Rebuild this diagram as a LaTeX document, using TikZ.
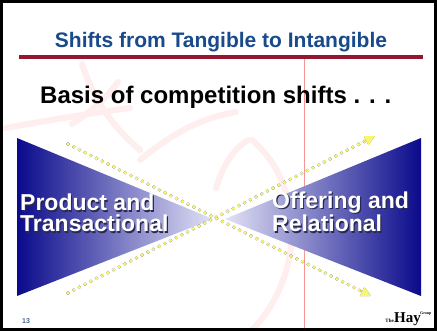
\documentclass[tikz,border=0pt]{standalone}
\usepackage{fontspec}
\setmainfont{Liberation Sans}
\newfontfamily\logoface{Liberation Serif}
\usetikzlibrary{arrows.meta,calc}

\definecolor{titleblue}{RGB}{24,74,140}
\definecolor{rulered}{RGB}{150,22,50}
\definecolor{deepblue}{RGB}{10,10,140}
\definecolor{paleblue}{RGB}{226,226,246}
\definecolor{dotyellow}{RGB}{250,246,110}
\definecolor{dotshadow}{RGB}{30,50,140}
\definecolor{guide}{RGB}{245,150,150}
\definecolor{wmark}{RGB}{254,238,238}
\definecolor{textshadow}{RGB}{40,40,80}
\definecolor{pagenum}{RGB}{70,100,150}

% white lettering with a dark drop shadow, set in one box
\newcommand{\shadowtext}[1]{%
  \makebox[0pt][l]{\hspace{1.2pt}\raisebox{-1.2pt}{\textcolor{textshadow}{#1}}}%
  \textcolor{white}{#1}}

\tikzset{
  dotrow/.style={line width=3.6, line cap=round, dash pattern=on 0pt off 6.4pt},
  tipstyle/.style={line width=0.4, -{Triangle[length=10,width=10]}},
  bigword/.style={font=\bfseries\fontsize{23}{21}\selectfont, align=left,
    anchor=base west, inner sep=0},
  watermark/.style={draw=wmark, line width=6, line cap=round},
}

\begin{document}
\begin{tikzpicture}[x=1pt,y=-1pt]
\useasboundingbox (0,0) rectangle (437,331);
\fill[white] (0,0) rectangle (437,331);

% faint background ornament
\draw[watermark] (82,64) .. controls (92,95) and (110,125) .. (140,150);
\draw[watermark] (6,128) .. controls (60,118) and (100,112) .. (130,108);
\draw[watermark] (72,124) .. controls (90,112) and (105,100) .. (118,82);
\draw[watermark] (140,160) .. controls (170,135) and (200,118) .. (236,112);
\draw[watermark] (248,140) .. controls (232,150) and (222,168) .. (216,188);
\draw[watermark] (252,140) .. controls (305,185) and (305,275) .. (252,330);

% frame, title and rule
\draw[black, line width=3] (1.5,1.5) rectangle (435.5,329.5);
\node[font=\bfseries\fontsize{21}{24}\selectfont, text=titleblue, anchor=base, inner sep=0]
  (title) at (221,48) {Shifts from Tangible to Intangible};
\coordinate (ruleL) at (19,57);
\coordinate (ruleR) at (423,57);
\draw[rulered, line width=4] (ruleL) -- (ruleR);

% vertical guide line
\coordinate (guideT) at (304,59);
\coordinate (guideB) at (304,328);
\draw[guide, line width=1] (guideT) -- (guideB);

\node[font=\bfseries\fontsize{24}{28}\selectfont, anchor=base west, inner sep=0]
  (basis) at (40,104) {Basis of competition shifts . . .};

% the two shaded wedges
\coordinate (L1) at (17,138);
\coordinate (L2) at (17,296);
\coordinate (LA) at (213,219);
\coordinate (R1) at (421,138);
\coordinate (R2) at (421,296);
\coordinate (RA) at (225,219);
\shade[left color=deepblue, right color=paleblue] (L1) -- (LA) -- (L2) -- cycle;
\shade[left color=paleblue, right color=deepblue] (R1) -- (RA) -- (R2) -- cycle;

% dotted crossing arrows
\coordinate (A0) at (68,293);
\coordinate (A1) at (375,136);
\coordinate (B0) at (68,144);
\coordinate (B1) at (371,296);
\foreach \s/\e in {A0/A1, B0/B1} {
  \draw[dotrow, dotshadow, shift={(1,1)}] (\s) -- ($(\e)!9pt!(\s)$);
  \draw[dotrow, dotyellow] (\s) -- ($(\e)!9pt!(\s)$);
  \draw[tipstyle, dotshadow!70, shift={(0.8,0.8)}] ($(\e)!12pt!(\s)$) -- (\e);
  \draw[tipstyle, dotyellow, fill=dotyellow] ($(\e)!12pt!(\s)$) -- (\e);
}

% wedge labels (anchored on the baseline of the second line)
\node[bigword] (prod) at (20,232) {\shadowtext{Product and}\\\shadowtext{Transactional}};
\node[bigword] (offer) at (272,232) {\shadowtext{Offering and}\\\shadowtext{Relational}};

% page number and logo
\node[font=\bfseries\fontsize{7}{8}\selectfont, text=pagenum, anchor=base west, inner sep=0]
  (pnum) at (22,324) {13};
\node[font=\logoface\bfseries\fontsize{5}{5}\selectfont, anchor=base east, inner sep=0]
  (logoThe) at (394,323) {The};
\node[font=\logoface\bfseries\fontsize{15}{15}\selectfont, anchor=base west, inner sep=0]
  (logoHay) at (394,323) {Hay};
\node[font=\logoface\bfseries\fontsize{4}{4}\selectfont, anchor=base west, inner sep=0]
  (logoGroup) at (420,315) {Group};
\end{tikzpicture}
\end{document}
